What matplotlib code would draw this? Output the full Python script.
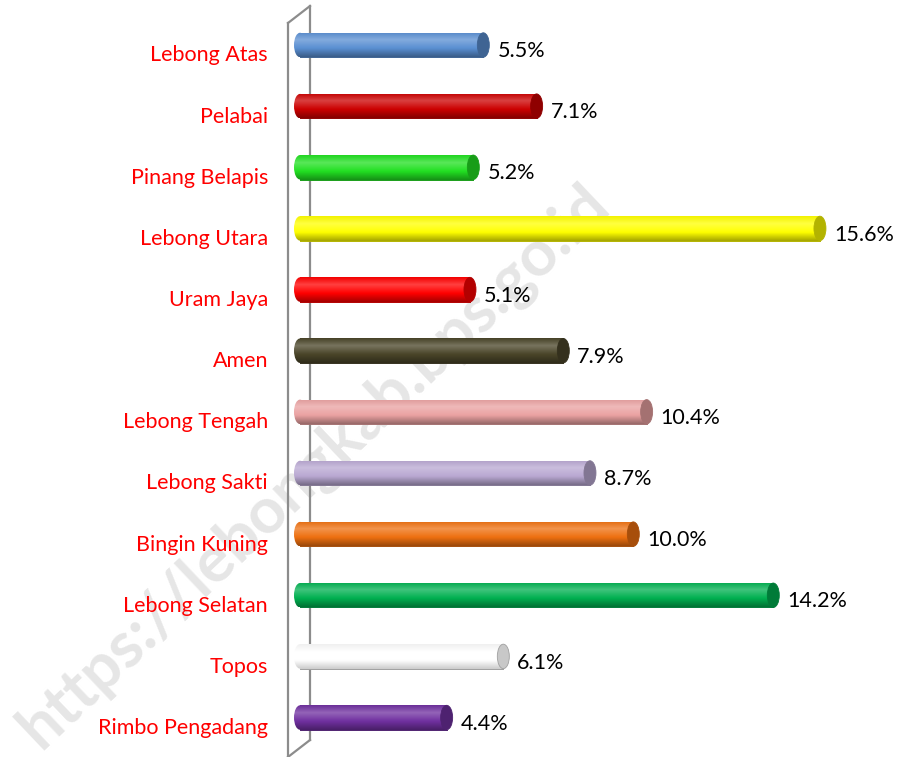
import matplotlib
matplotlib.use('Agg')
import matplotlib.pyplot as plt
from matplotlib.patches import Ellipse, Rectangle
from matplotlib.lines import Line2D
from matplotlib.colors import LinearSegmentedColormap
import matplotlib.colors as mcolors
import numpy as np

# data
kecamatan = ['Lebong Atas', 'Pelabai', 'Pinang Belapis', 'Lebong Utara', 'Uram Jaya', 'Amen',
             'Lebong Tengah', 'Lebong Sakti', 'Bingin Kuning', 'Lebong Selatan', 'Topos',
             'Rimbo Pengadang']
persen = [5.5, 7.1, 5.2, 15.6, 5.1, 7.9, 10.4, 8.7, 10.0, 14.2, 6.1, 4.4]
warna = ['#5a8fd2', '#cc0000', '#22e022', '#ffff00', '#ff0000', '#4a4529',
         '#eaa2a2', '#b9a8d2', '#ee7010', '#00b050', '#ffffff', '#7030a0']

W, H = 899, 757
fig = plt.figure(figsize=(W/100, H/100), dpi=100)
plt.rcParams['font.family'] = ['Lato', 'DejaVu Sans']

# watermark
fig.text(314/W, 1-466/H, 'https://lebongkab.bps.go.id', rotation=43.5, fontsize=46,
         fontweight='bold', color='#e6e6e6', ha='center', va='center', zorder=0)

# wall of the pseudo-3d axis
def px(x, y):
    return x/W, 1-y/H
for (x0, y0), (x1, y1) in [((288, 23), (288, 757)), ((310, 6), (310, 740)),
                           ((288, 23), (310, 6)), ((288, 757), (310, 740))]:
    a, b = px(x0, y0), px(x1, y1)
    fig.add_artist(Line2D([a[0], b[0]], [a[1], b[1]], color='#8c8c8c', lw=1.6, zorder=0.5))

x0px = 300
axl = 280
scale = 33.33
step = 61.14
ax = fig.add_axes([axl/W, 0, 1-axl/W, 1], zorder=1)
ax.patch.set_visible(False)
ax.set_xlim(-(x0px-axl)/scale, (W-x0px)/scale)
ax.set_ylim((H-45)/step, -45/step)
ax.axis('off')

h = 0.40
ew = 0.36
grad = np.linspace(0, 1, 64).reshape(-1, 1)

def shade(c, f):
    r = np.array(mcolors.to_rgb(c))
    if f >= 0:
        return tuple(r + (1-r)*f)
    return tuple(r*(1+f))

for i, (k, v, c) in enumerate(zip(kecamatan, persen, warna)):
    white = c == '#ffffff'
    cmap = LinearSegmentedColormap.from_list('cyl', [
        (0.0, shade(c, -0.05 if not white else -0.06)),
        (0.3, shade(c, 0.25)),
        (0.65, shade(c, 0.0)),
        (1.0, shade(c, -0.35 if not white else -0.2))])
    edge = '#a0a0a0' if white else shade(c, -0.3)
    body = Rectangle((0, i - h/2), v, h, facecolor='none', edgecolor='none')
    left = Ellipse((0, i), ew, h, facecolor='none', edgecolor='none')
    ax.add_patch(body)
    ax.add_patch(left)
    for clip in (body, left):
        im = ax.imshow(grad, cmap=cmap, aspect='auto', extent=(-ew, v, i + h/2, i - h/2),
                       interpolation='bilinear', zorder=2)
        im.set_clip_path(clip)
    ax.plot([0, v], [i + h/2, i + h/2], color=edge, lw=0.7, zorder=2.5)
    capc = '#c8c8c8' if white else shade(c, -0.3)
    ax.add_patch(Ellipse((v, i), ew, h, facecolor=capc, edgecolor=edge, lw=0.6, zorder=3))
    ax.text(v + 0.42, i + 0.1, f'{v:.1f}%', ha='left', va='center', fontsize=15.5, color='black')
    ax.text(-32/scale, i + 0.17, k, ha='right', va='center', fontsize=15.5, color='#ff0000')

fig.savefig('out.png', dpi=100)
